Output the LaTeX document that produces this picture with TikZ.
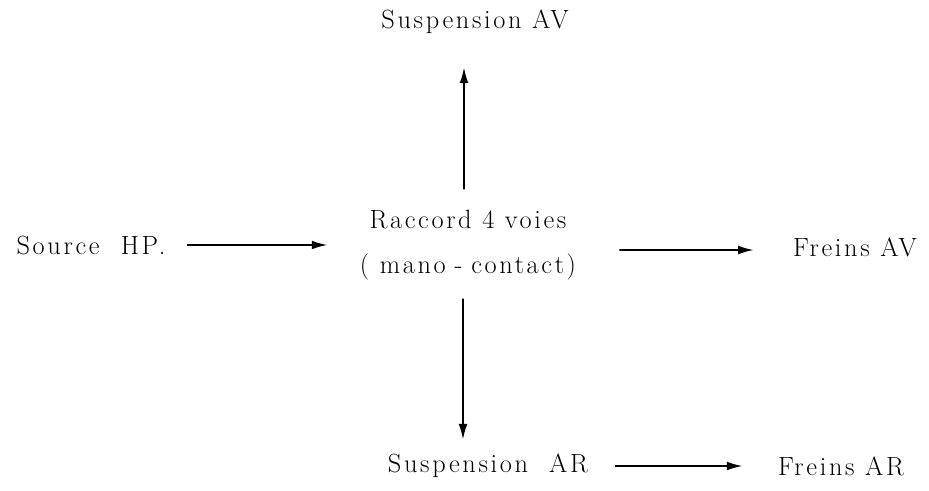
\documentclass[tikz,border=0pt]{standalone}
\usepackage{fontspec}
\setmainfont{Latin Modern Roman}[LetterSpace=10]
\usetikzlibrary{arrows.meta, positioning, calc}

\begin{document}
\begin{tikzpicture}[
  x=0.02cm, y=-0.02cm,
  lbl/.style={font=\fontsize{15}{26}\selectfont, align=center, inner sep=0pt},
  tr/.style={-{Latex[length=9pt,width=5pt]}, line width=1.1pt, black}
]
  \useasboundingbox (0,0) rectangle (929,490);

  % Labels
  \node[lbl] (src)   at (91,245)  {Source\ \ HP.};
  \node[lbl] (rac)   at (468,245) {Raccord 4\ voies\\( mano\,\,-\,\,contact)};
  \node[lbl] (susav) at (475,22)  {Suspension\ AV};
  \node[lbl] (frav)  at (855,247) {Freins AV};
  \node[lbl] (susar) at (488,466) {Suspension\ \ AR};
  \node[lbl] (frar)  at (841,466) {Freins AR};

  % Arrows out of the 4-way union
  \draw[tr, shorten <=0.42cm, shorten >=0.64cm] (src.east) -- (rac.west);
  \draw[tr, shorten <=0.4cm, shorten >=0.66cm] ([xshift=-0.08cm]rac.north) -- ([xshift=-0.22cm]susav.south);
  \draw[tr, shorten <=0.86cm, shorten >=0.78cm] ([yshift=-0.1cm]rac.east) -- ([yshift=-0.06cm]frav.west);
  \draw[tr, shorten <=0.36cm, shorten >=0.28cm] ([xshift=-0.1cm]rac.south) -- ([xshift=-0.5cm]susar.north);
  \draw[tr, shorten <=0.54cm, shorten >=0.7cm] (susar.east) -- (frar.west);
\end{tikzpicture}
\end{document}
